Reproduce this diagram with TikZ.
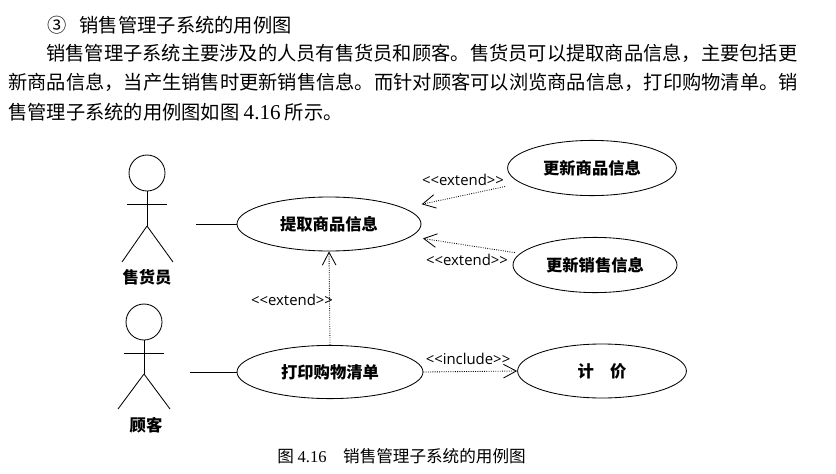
\documentclass[tikz,border=0pt]{standalone}
\usepackage{fontspec}
\setmainfont{Liberation Serif}
\setsansfont{Open Sans}
\newfontfamily\cjk{Noto Sans CJK SC}
\usetikzlibrary{arrows.meta,shapes.geometric}

\begin{document}
\begin{tikzpicture}[
    usecase/.style={draw, ellipse, semithick, inner sep=0pt, font=\cjk\bfseries\fontsize{11.6}{14}\selectfont},
    actorhead/.style={draw, circle, semithick, minimum size=0.9cm, inner sep=0pt},
    limb/.style={semithick},
    role/.style={font=\cjk\bfseries\fontsize{11.6}{14}\selectfont},
    stereo/.style={inner sep=0pt, font=\sffamily\fontsize{10.6}{12}\selectfont},
    para/.style={anchor=west, inner sep=0pt, font=\cjk\fontsize{13.7}{16}\selectfont},
    dep/.style={densely dotted, -{Straight Barb[length=3.2mm, width=3.4mm]}, semithick}
]
\useasboundingbox (0,0) rectangle (20.9,11.825);
\node[para] (heading) at (1.175,11.2) {③\hspace{0.33cm}销售管理子系统的用例图};
\node[para] (lineone) at (1.15,10.5) {销售管理子系统主要涉及的人员有售货员和顾客。售货员可以提取商品信息，主要包括更};
\node[para] (linetwo) at (0.2,9.775) {新商品信息，当产生销售时更新销售信息。而针对顾客可以浏览商品信息，打印购物清单。销};
\node[para] (linethree) at (0.2,9.025) {售管理子系统的用例图如图 {\rmfamily\fontsize{15}{16}\selectfont 4.16}\ 所示。};
\node[usecase, minimum width=4.6cm, minimum height=1.35cm] (fetch) at (8.225,6.225) {提取商品信息};
\node[usecase, minimum width=4.65cm, minimum height=1.33cm] (print) at (8.25,2.525) {打印购物清单};
\node[usecase, minimum width=4.22cm, minimum height=1.38cm] (ugoods) at (14.8,7.625) {更新商品信息};
\node[usecase, minimum width=4.1cm, minimum height=1.38cm] (usales) at (14.875,5.2) {更新销售信息};
\node[usecase, minimum width=4.22cm, minimum height=1.35cm] (price) at (15.05,2.55) {计　价};
% seller
\node[actorhead] (sellerhead) at (3.675,7.5) {};
\coordinate (sellerhip) at (3.675,6.175);
\coordinate (sellerend) at (4.9,6.225);
\draw[limb] (sellerhead.south) -- (sellerhip);
\draw[limb] (3.175,6.725) -- (4.175,6.725);
\draw[limb] (sellerhip) -- ++(-0.625,-0.9);
\draw[limb] (sellerhip) -- ++(0.65,-0.9);
\node[role] (seller) at (3.675,4.9) {售货员};
% customer
\node[actorhead] (customerhead) at (3.6,3.775) {};
\coordinate (customerhip) at (3.6,2.475);
\coordinate (customerend) at (4.75,2.525);
\draw[limb] (customerhead.south) -- (customerhip);
\draw[limb] (3.1,3) -- (4.1,3);
\draw[limb] (customerhip) -- ++(-0.65,-0.875);
\draw[limb] (customerhip) -- ++(0.65,-0.875);
\node[role] (customer) at (3.65,1.2) {顾客};
\draw[semithick] (sellerend) -- (fetch.west);
\draw[semithick] (customerend) -- (print.west);
\draw[dep, shorten >=0.45cm, shorten <=0.4cm] (ugoods) -- (fetch);
\draw[dep, shorten >=0.3cm, shorten <=0.13cm] (usales) -- (fetch);
\draw[dep] (print.north) -- (fetch.south);
\draw[dep] (print.east) -- (price.west);
\node[stereo] (extgoods) at (11.575,7.325) {<{}<extend>{}>};
\node[stereo] (extsales) at (11.675,5.325) {<{}<extend>{}>};
\node[stereo] (extprint) at (7.3,4.325) {<{}<extend>{}>};
\node[stereo] (incprice) at (11.7,2.85) {<{}<include>{}>};
\node[anchor=west, inner sep=0pt, font=\cjk\fontsize{11.8}{14}\selectfont] (caption) at (6.925,0.425) {图 {\rmfamily 4.16}\quad 销售管理子系统的用例图};
\end{tikzpicture}
\end{document}
